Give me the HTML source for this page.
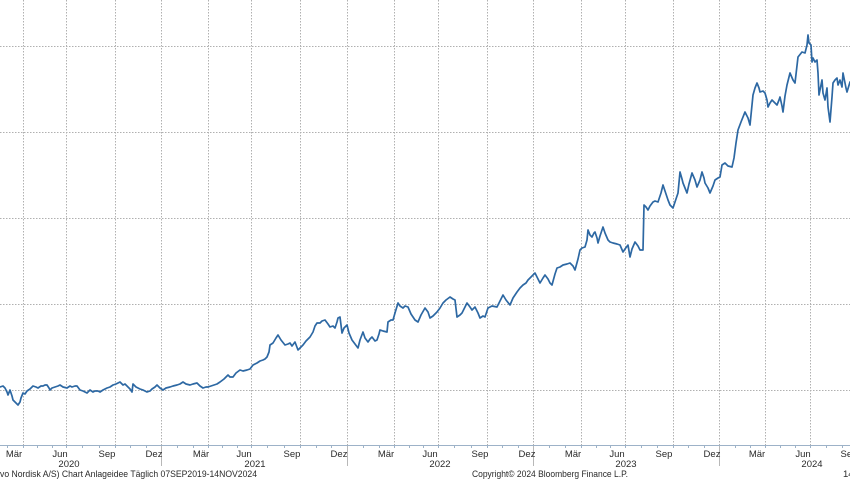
<!DOCTYPE html>
<html>
<head>
<meta charset="utf-8">
<style>
  html,body{margin:0;padding:0;background:#fff;}
  svg{display:block;}
  text{font-family:"Liberation Sans","DejaVu Sans",sans-serif;fill:#2a2a2a;}
</style>
</head>
<body>
<svg width="850" height="480" viewBox="0 0 850 480" xmlns="http://www.w3.org/2000/svg">
  <rect x="0" y="0" width="850" height="480" fill="#fff"/>
  <g stroke="#b0b0b0" stroke-width="1" stroke-dasharray="1.5,1.5" fill="none">
    <path d="M0 46.5H850M0 132.5H850M0 218.5H850M0 304.5H850M0 390.5H850"/>
    <path d="M23.5 0V445M66.5 0V445M115.5 0V445M161.5 0V445M208.5 0V445M251.5 0V445M300.5 0V445M347.5 0V445M394.5 0V445M438.5 0V445M487.5 0V445M533.5 0V445M581.5 0V445M625.5 0V445M673.5 0V445M719.5 0V445M765.5 0V445M810.5 0V445"/>
  </g>
  <line x1="0" y1="445.5" x2="850" y2="445.5" stroke="#9db2c8" stroke-width="1"/>
  <path stroke="#9db2c8" stroke-width="1" fill="none" d="M7.5 446v2M23.5 446v2M37.5 446v2M52.5 446v2M66.5 446v2M82.5 446v2M99.5 446v2M115.5 446v2M130.5 446v2M146.5 446v2M177.5 446v2M193.5 446v2M208.5 446v2M222.5 446v2M237.5 446v2M251.5 446v2M267.5 446v2M284.5 446v2M300.5 446v2M316.5 446v2M331.5 446v2M363.5 446v2M379.5 446v2M394.5 446v2M409.5 446v2M423.5 446v2M438.5 446v2M454.5 446v2M471.5 446v2M487.5 446v2M502.5 446v2M518.5 446v2M549.5 446v2M565.5 446v2M581.5 446v2M596.5 446v2M610.5 446v2M625.5 446v2M641.5 446v2M657.5 446v2M673.5 446v2M688.5 446v2M704.5 446v2M735.5 446v2M750.5 446v2M765.5 446v2M780.5 446v2M795.5 446v2M810.5 446v2M826.5 446v2M842.5 446v2"/>
  <path stroke="#b8b8b8" stroke-width="1" fill="none" d="M161.5 446V466M347.5 446V466M533.5 446V466M719.5 446V466"/>

  <polyline fill="none" stroke="#2d68a3" stroke-width="1.7" stroke-linejoin="round" stroke-linecap="round"
    points="0,387 3,386 5,388 7,392 8,395 10,390 12,396 13,400 15,402 18,405 20,402 21,398 23,393 25,394 27,391 30,389 33,386 36,387 38,388 41,386 43,386 45,385 47,385 49,388 50,390 52,388 55,387 58,386 60,385 63,387 67,388 70,386 72,387 75,386 77,386 80,390 83,391 87,393 90,390 93,392 95,391 98,391 100,392 103,390 107,388 110,387 113,385 116,384 120,382 123,385 125,384 127,386 130,389 132,392 133,384 136,387 140,389 143,390 147,392 150,391 152,389 155,387 157,385 160,388 163,390 166,388 170,387 173,386 177,385 180,384 183,382 186,384 190,385 193,384 197,383 200,386 203,388 206,387 208,387 211,386 214,385 217,384 220,382 224,379 228,375 230,377 233,377 236,373 240,370 243,371 247,370 250,369 253,365 255,364 257,363 260,361 263,360 265,359 267,357 269,352 270,345 273,343 276,338 278,335 281,340 285,345 288,344 290,343 292,346 295,342 298,350 300,348 303,345 306,341 310,337 313,332 315,326 317,323 320,323 322,321 325,320 328,324 330,327 333,326 335,328 337,322 338,318 340,317 342,333 344,328 347,325 349,333 352,340 355,344 358,348 360,340 363,332 365,338 368,342 370,339 372,337 375,341 377,340 379,334 380,330 383,331 387,332 388,322 391,320 393,320 395,313 398,303 400,306 403,308 405,306 408,307 411,314 415,320 418,322 421,315 425,308 428,312 430,318 433,316 437,312 440,308 443,303 446,300 450,297 453,299 455,300 457,317 460,315 462,313 465,307 467,303 470,307 472,310 475,307 478,313 480,318 483,316 485,317 488,308 492,306 497,307 500,301 503,295 506,300 510,305 513,298 517,292 520,288 523,285 526,283 528,280 531,277 535,273 538,279 540,283 543,278 545,275 548,279 550,283 552,285 555,274 557,268 560,267 563,265 567,264 570,263 573,266 575,270 578,259 580,250 582,248 585,247 587,240 588,230 590,235 592,237 594,233 595,232 597,238 598,243 600,236 603,227 605,233 608,240 610,242 613,243 617,244 620,245 623,252 625,249 628,245 630,257 632,249 635,242 638,246 640,250 643,250 644,205 646,207 648,210 650,206 653,202 655,201 658,202 661,193 663,185 666,194 668,200 670,205 673,208 676,199 678,193 680,172 682,179 683,183 685,188 687,193 689,184 692,173 695,180 697,187 700,180 702,172 704,178 705,183 708,188 710,193 713,186 715,180 718,178 720,177 722,165 725,163 728,166 732,167 734,158 736,143 738,130 741,122 745,112 748,118 750,125 752,105 753,95 755,88 757,83 759,88 760,92 763,91 765,93 767,100 768,107 770,103 772,100 775,103 777,105 779,100 780,97 782,106 783,112 785,96 787,85 790,73 793,80 795,83 798,57 802,52 805,53 807,45 808,35 809,43 811,45 812,62 813,58 815,62 817,60 818,73 819,95 822,80 823,93 825,100 827,88 828,107 830,122 832,97 833,83 835,80 837,78 838,85 840,80 842,87 843,73 846,88 847,92 850,82"/>

  <g font-size="9.5" text-anchor="middle">
    <text x="14" y="457">Mär</text>
    <text x="60" y="457">Jun</text>
    <text x="107" y="457">Sep</text>
    <text x="154" y="457">Dez</text>
    <text x="201" y="457">Mär</text>
    <text x="244" y="457">Jun</text>
    <text x="292" y="457">Sep</text>
    <text x="339" y="457">Dez</text>
    <text x="386" y="457">Mär</text>
    <text x="430" y="457">Jun</text>
    <text x="480" y="457">Sep</text>
    <text x="527" y="457">Dez</text>
    <text x="573" y="457">Mär</text>
    <text x="617" y="457">Jun</text>
    <text x="664" y="457">Sep</text>
    <text x="712" y="457">Dez</text>
    <text x="757" y="457">Mär</text>
    <text x="803" y="457">Jun</text>
    <text x="849" y="457">Sep</text>
    <text x="69" y="467">2020</text>
    <text x="255" y="467">2021</text>
    <text x="440" y="467">2022</text>
    <text x="626" y="467">2023</text>
    <text x="812" y="467">2024</text>
  </g>
  <g font-size="9.5">
    <text x="0" y="477" textLength="257" lengthAdjust="spacingAndGlyphs">vo Nordisk A/S) Chart Anlageidee  Täglich 07SEP2019-14NOV2024</text>
    <text x="472" y="477" textLength="156" lengthAdjust="spacingAndGlyphs">Copyright© 2024 Bloomberg Finance L.P.</text>
    <text x="843" y="477">14</text>
  </g>
</svg>
</body>
</html>
